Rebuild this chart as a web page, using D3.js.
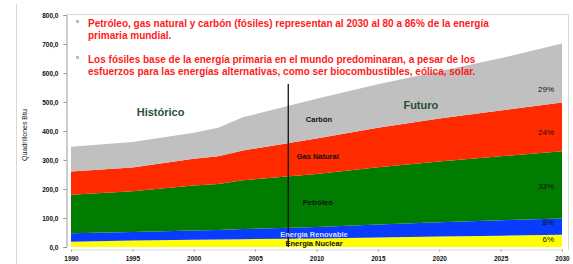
<!DOCTYPE html>
<html>
<head>
<meta charset="utf-8">
<script src="https://cdn.jsdelivr.net/npm/d3@7"></script>
<style>
  body { margin: 0; background: #fff; }
  svg { display: block; font-family: "Liberation Sans", Arial, sans-serif; }
</style>
</head>
<body>
<svg id="chart" width="573" height="264"></svg>
<script>
// Quadrillones Btu
const years      = [1990, 1995, 2000, 2002, 2004, 2010, 2015, 2020, 2025, 2030];
const nuclear    = [18, 22, 25, 26, 27, 29, 33, 36, 39, 42];
const renovable  = [29, 30, 32, 33, 35, 40, 45, 49, 53, 56];
const petroleo   = [133, 140, 155, 158, 168, 183, 197, 210, 221, 232];
const gasNatural = [80, 82, 92, 96, 103, 122, 136, 148, 158, 168];
const carbon     = [86, 88, 90, 98, 114, 137, 150, 163, 180, 204];

const seriesKeys   = ['nuclear', 'renovable', 'petroleo', 'gas', 'carbon'];
const seriesColors = ['#ffff00', '#0a3cff', '#007d00', '#ff2a00', '#c0c0c0'];
const pctLabels    = ['6%', '8%', '33%', '24%', '29%'];
const yTicks       = [0, 100, 200, 300, 400, 500, 600, 700, 800];
const xTicks       = [1990, 1995, 2000, 2005, 2010, 2015, 2020, 2025, 2030];
const dividerYear  = 2007.7;

const bullets = [
    ['Petróleo, gas natural y carbón (fósiles) representan al 2030 al 80 a 86% de la energía',
     'primaria mundial.'],
    ['Los fósiles base de la energía primaria en el mundo predominaran, a pesar de los',
     'esfuerzos para las energías alternativas, como ser biocombustibles, eólica, solar.']
];

const table = years.map((yr, i) => ({
    year: yr,
    nuclear: nuclear[i],
    renovable: renovable[i],
    petroleo: petroleo[i],
    gas: gasNatural[i],
    carbon: carbon[i]
}));

const svg = d3.select('#chart');

const x = d3.scaleLinear().domain([1990, 2030]).range([71, 562]);
const y = d3.scaleLinear().domain([0, 800]).range([247, 15]);

// slide frame + plot border
svg.append('line')
    .attr('x1', 16.5).attr('x2', 16.5).attr('y1', 4).attr('y2', 264)
    .attr('stroke', '#d8d8d8');
svg.append('path')
    .attr('d', 'M66.5,14.5 H568.5 V250')
    .attr('fill', 'none')
    .attr('stroke', '#d8d8d8');

// stacked areas
const stacked = d3.stack().keys(seriesKeys)(table);
const area = d3.area()
    .x(d => x(d.data.year))
    .y0(d => y(d[0]))
    .y1(d => y(d[1]));

svg.selectAll('.layer')
    .data(stacked)
    .enter()
    .append('path')
    .attr('class', 'layer')
    .attr('d', area)
    .attr('fill', (d, i) => seriesColors[i]);

// historic / future divider
svg.append('line')
    .attr('x1', x(dividerYear)).attr('x2', x(dividerYear))
    .attr('y1', 84).attr('y2', y(0))
    .attr('stroke', '#111')
    .attr('stroke-width', 1.3);

// y axis
const esFormat = d3.formatLocale({ decimal: ',', thousands: '.', grouping: [3], currency: ['', ''] }).format('.1f');
const yAxis = svg.append('g')
    .attr('transform', 'translate(66.5,0)')
    .call(d3.axisLeft(y).tickValues(yTicks).tickFormat(esFormat).tickSize(3).tickPadding(5));
yAxis.select('.domain').attr('stroke', '#999');
yAxis.selectAll('.tick line').attr('stroke', '#999');
yAxis.selectAll('text')
    .style('font-size', '6.5px')
    .style('font-weight', 'bold')
    .attr('fill', '#111');

// x axis
const xAxis = svg.append('g')
    .attr('transform', 'translate(0,249.5)')
    .call(d3.axisBottom(x).tickValues(xTicks).tickFormat(d3.format('d')).tickSize(2).tickPadding(5));
xAxis.select('.domain').attr('stroke', '#ddd');
xAxis.selectAll('.tick line').attr('stroke', '#999');
xAxis.selectAll('text')
    .style('font-size', '6.5px')
    .style('font-weight', 'bold')
    .attr('fill', '#111');

// y axis title
svg.append('text')
    .attr('transform', 'translate(27,135) rotate(-90)')
    .attr('text-anchor', 'middle')
    .style('font-size', '7px')
    .attr('fill', '#222')
    .text('Quadrillones Btu');

// bullets
bullets.forEach((lines, bi) => {
    const top = bi === 0 ? 24 : 60;
    svg.append('rect')
        .attr('x', 76).attr('y', top - 4)
        .attr('width', 3).attr('height', 3)
        .attr('fill', '#b5c4a6');
    lines.forEach((ln, li) => {
        svg.append('text')
            .attr('x', 88)
            .attr('y', top + li * 12 + 3)
            .style('font-size', '10px')
            .style('font-weight', 'bold')
            .attr('fill', '#ff1a1a')
            .text(ln);
    });
});

// period labels
const period = [['Histórico', 1997.3, 116], ['Futuro', 2018.5, 109]];
period.forEach(p => {
    svg.append('text')
        .attr('x', x(p[1])).attr('y', p[2])
        .attr('text-anchor', 'middle')
        .style('font-size', '11px')
        .style('font-weight', 'bold')
        .attr('fill', '#245232')
        .text(p[0]);
});

// series names
const names = [
    ['Carbón', 2010.2, 122, '#111'],
    ['Gas Natural', 2010.1, 159, '#111'],
    ['Petróleo', 2010.1, 205, '#111'],
    ['Energía Renovable', 2009.8, 237, '#dcdcff'],
    ['Energía Nuclear', 2009.8, 246, '#111']
];
names.forEach(n => {
    svg.append('text')
        .attr('x', x(n[1])).attr('y', n[2])
        .attr('text-anchor', 'middle')
        .style('font-size', '7.5px')
        .style('font-weight', 'bold')
        .attr('fill', n[3])
        .text(n[0]);
});

// share labels at 2030
const pctY = [242, 225, 189, 135, 92];
pctLabels.forEach((p, i) => {
    svg.append('text')
        .attr('x', 554).attr('y', pctY[i])
        .attr('text-anchor', 'end')
        .style('font-size', '8px')
        .attr('fill', '#111')
        .text(p);
});
</script>
</body>
</html>
